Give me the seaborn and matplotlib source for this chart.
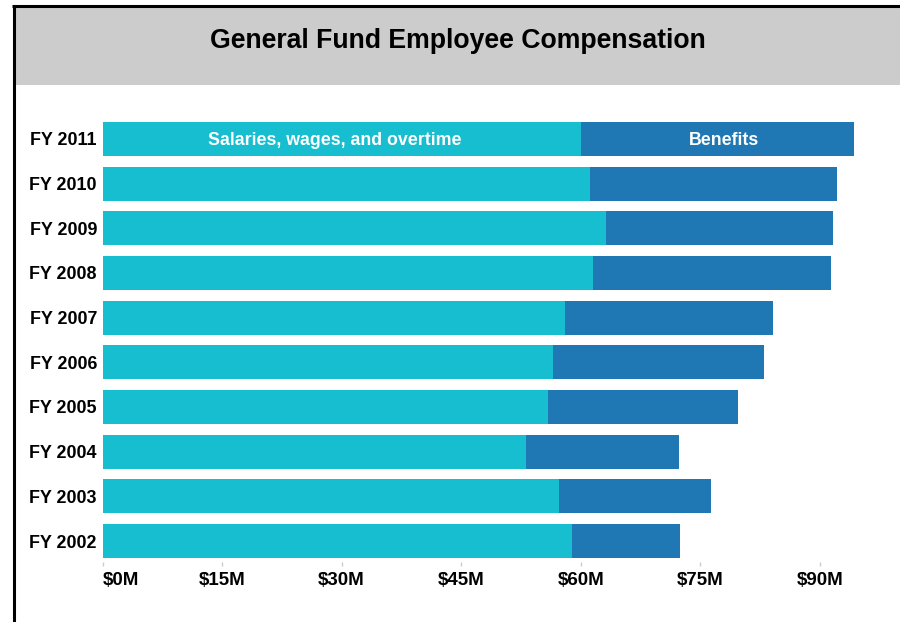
import matplotlib
matplotlib.use("Agg")
import matplotlib.pyplot as plt
from matplotlib.patches import Rectangle
from matplotlib.lines import Line2D
import seaborn as sns
import pandas as pd

# Fiscal years, top to bottom
years = ["FY 2011", "FY 2010", "FY 2009", "FY 2008", "FY 2007",
         "FY 2006", "FY 2005", "FY 2004", "FY 2003", "FY 2002"]
# Millions of dollars
salaries = [60.0, 61.2, 63.2, 61.5, 58.0, 56.5, 55.9, 53.1, 57.3, 58.9]
benefits = [34.3, 30.9, 28.4, 29.9, 26.1, 26.5, 23.8, 19.2, 19.1, 13.5]
tick_values = [0, 15, 30, 45, 60, 75, 90]
tick_labels = ["$0M", "$15M", "$30M", "$45M", "$60M", "$75M", "$90M"]

SAL_COLOR = "#17becf"
BEN_COLOR = "#1f77b4"

df = pd.DataFrame({"year": years, "salaries": salaries, "benefits": benefits})
df["total"] = df["salaries"] + df["benefits"]

sns.set_theme(style="white")
plt.rcParams["font.family"] = ["Liberation Sans", "DejaVu Sans"]

fig = plt.figure(figsize=(9, 6.22), dpi=100)
W, H = 900, 622

# Header band and frame
fig.add_artist(Rectangle((15 / W, 1 - 85 / H), (W - 15) / W, (85 - 7) / H,
                         transform=fig.transFigure, facecolor="#cccccc",
                         edgecolor="none", zorder=0))
fig.add_artist(Line2D([13.5 / W, 13.5 / W], [0, 1 - 5.5 / H], transform=fig.transFigure,
                      color="black", lw=2.2, solid_capstyle="butt", zorder=5))
fig.add_artist(Line2D([12 / W, 1], [1 - 5.5 / H, 1 - 5.5 / H], transform=fig.transFigure,
                      color="black", lw=2.2, solid_capstyle="butt", zorder=5))
fig.text(457.5 / W, 1 - 41 / H, "General Fund Employee Compensation",
         ha="center", va="center", fontsize=19.2, fontweight="bold", color="black")

ax = fig.add_axes([102.5 / W, 1 - 562 / H, 767.5 / W, (562 - 117) / H])

# Stacked horizontal bars: full total in the benefits colour, salaries on top
sns.barplot(data=df, y="year", x="total", order=years, color=BEN_COLOR,
            orient="h", width=0.76, saturation=1, linewidth=0, ax=ax)
sns.barplot(data=df, y="year", x="salaries", order=years, color=SAL_COLOR,
            orient="h", width=0.76, saturation=1, linewidth=0, ax=ax)

ax.set_xlim(0, 96.3)
ax.set_ylim(9.47, -0.49)
ax.set_xlabel("")
ax.set_ylabel("")
for s in ax.spines.values():
    s.set_visible(False)

ax.set_xticks(tick_values)
ax.set_xticklabels(tick_labels, fontsize=13.5, fontweight="bold", color="black")
ax.get_xticklabels()[0].set_horizontalalignment("left")
ax.tick_params(axis="x", bottom=True, length=3, width=1, color="#cccccc", pad=4)
ax.tick_params(axis="y", left=False, length=0, pad=4)
for lbl in ax.get_yticklabels():
    lbl.set_fontsize(12.9)
    lbl.set_fontweight("bold")
    lbl.set_color("black")

# Segment labels on the top bar
ax.text(salaries[0] / 2 - 0.9, 0, "Salaries, wages, and overtime", ha="center",
        va="center_baseline", color="white", fontsize=12.8, fontweight="bold")
ax.text(salaries[0] + benefits[0] / 2 + 0.85, 0, "Benefits", ha="center",
        va="center_baseline", color="white", fontsize=12.8, fontweight="bold")

fig.savefig("out.png", dpi=100)
